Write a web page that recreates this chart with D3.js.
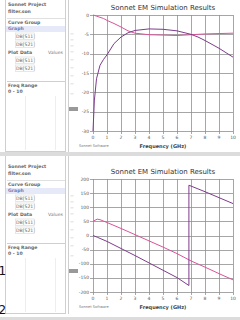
<!DOCTYPE html>
<html>

<head>
    <script src="https://d3js.org/d3.v7.min.js"></script>
    <style>
        body {
            margin: 0;
            background-color: #ffffff;
        }
        text {
            font-family: "DejaVu Sans", sans-serif;
        }
    </style>
</head>

<body>
    <svg id="canvas" width="240" height="320"></svg>
    <script>
        const svg = d3.select('#canvas');
        const PINK = '#d9549a';
        const PURPLE = '#7e3c8c';
        const GRID = '#8f8f8f';

        //tick labels
        const freqTicks = [0, 1, 2, 3, 4, 5, 6, 7, 8, 9, 10];
        const magTicks = [0, -5, -10, -15, -20, -25, -30];
        const phaseTicks = [200, 150, 100, 50, 0, -50, -100, -150, -200];

        //magnitude curves (dB)
        const magFreq = [0, 0.1, 0.25, 0.5, 0.75, 1, 1.5, 2, 2.5, 3, 4, 5, 6, 7, 7.5, 8, 9, 10];
        const s11Mag = [0, -0.1, -0.3, -0.6, -0.9, -1.4, -2.2, -3.1, -4.1, -4.7, -5.1, -5.2, -5.3, -5.1, -5.0, -4.9, -4.8, -4.7];
        const s21Mag = [-30, -22, -16.5, -13, -11.5, -10.3, -7.4, -5.7, -4.6, -4.0, -3.6, -3.7, -4.1, -5.0, -5.7, -6.6, -8.6, -10.9];

        //phase curves (deg)
        const s11PhaseFreq = [0, 0.3, 0.5, 1, 2, 3, 4, 5, 6, 7, 8, 9, 10];
        const s11Phase = [50, 58, 56, 46, 25, 3, -19, -41, -64, -90, -112, -135, -157];
        const s21PhaseFreq = [0, 0.3, 1, 2, 3, 4, 5, 6, 6.85, 6.85, 7, 8, 9, 10];
        const s21Phase = [0, -6, -21, -46, -71, -97, -123, -149, -177, 178, 175, 155, 134, 113];

        //sidebar rows: [label, indent, right label]
        const sideRows = [
            ['Sonnet Project', 0, ''],
            ['filter.son', 0, ''],
            ['Curve Group', 0, ''],
            ['Graph', 0, ''],
            ['DB[S11]', 1, ''],
            ['DB[S21]', 1, ''],
            ['Plot Data', 0, 'Values'],
            ['DB[S11]', 1, ''],
            ['DB[S21]', 1, '']
        ];
        const panelNumbers = ['1', '2'];
        const panels = [
            { oy: 0, top: 15, bottom: 131, ticks: magTicks,
              series: [[magFreq, s11Mag, PINK], [magFreq, s21Mag, PURPLE]] },
            { oy: 162, top: 179, bottom: 292, ticks: phaseTicks,
              series: [[s11PhaseFreq, s11Phase, PINK], [s21PhaseFreq, s21Phase, PURPLE]] }
        ];

        const x = d3.scaleLinear().domain([0, 10]).range([93, 233]);

        panels.forEach(p => {
            const g = svg.append('g');
            const oy = p.oy;

            //sidebar box
            g.append('rect').attr('x', 5.5).attr('y', oy - 6.5).attr('width', 60).attr('height', 158)
                .attr('fill', '#fff').attr('stroke', '#cfcfcf');
            g.append('line').attr('x1', 68.5).attr('x2', 68.5).attr('y1', oy - 6).attr('y2', oy + 152)
                .attr('stroke', '#cfcfcf');
            g.append('rect').attr('x', 6).attr('y', oy + 26).attr('width', 59).attr('height', 6)
                .attr('fill', '#e6e9f8');
            const rowY = [6, 13, 24, 30, 38, 46, 54, 62, 70];
            sideRows.forEach((r, i) => {
                g.append('text').attr('x', 8 + r[1] * 8).attr('y', oy + rowY[i])
                    .attr('font-size', 4.6).attr('fill', i === 3 ? '#7078b0' : '#666')
                    .attr('font-weight', r[1] ? 'normal' : 'bold')
                    .text(r[0]);
                if (r[1]) {
                    g.append('rect').attr('x', 15.5).attr('y', oy + rowY[i] - 5).attr('width', 19).attr('height', 6.5)
                        .attr('fill', 'none').attr('stroke', '#d8d8d8').attr('stroke-width', 0.6);
                }
                if (r[2]) {
                    g.append('text').attr('x', 63).attr('y', oy + rowY[i]).attr('text-anchor', 'end')
                        .attr('font-size', 4.6).attr('fill', '#777').text(r[2]);
                }
            });
            g.append('line').attr('x1', 7).attr('x2', 65).attr('y1', oy + 18.5).attr('y2', oy + 18.5)
                .attr('stroke', '#e0e0e0');
            g.append('line').attr('x1', 7).attr('x2', 65).attr('y1', oy + 81.5).attr('y2', oy + 81.5)
                .attr('stroke', '#cfcfcf');
            g.append('text').attr('x', 8).attr('y', oy + 87).attr('font-size', 4.6).attr('fill', '#666')
                .attr('font-weight', 'bold').text('Freq Range');
            g.append('text').attr('x', 8).attr('y', oy + 93).attr('font-size', 4.6).attr('fill', '#666')
                .attr('font-weight', 'bold').text('0 - 10');
            [25.5, 55.5].forEach(lx => g.append('line').attr('x1', lx).attr('x2', lx)
                .attr('y1', oy + 96).attr('y2', oy + 150).attr('stroke', '#eeeeee'));

            //narrow clipped column next to sidebar
            [35, 41, 47, 53, 61, 69, 77, 85, 95].forEach(cy => g.append('text')
                .attr('x', 70).attr('y', oy + cy).attr('font-size', 3.8).attr('fill', '#888').text('—'));
            g.append('rect').attr('x', 69).attr('y', oy + 107).attr('width', 9).attr('height', 4).attr('fill', '#999');

            //chart
            const y = d3.scaleLinear().domain([p.ticks[p.ticks.length - 1], p.ticks[0]]).range([p.bottom, p.top]);
            g.append('text').attr('x', 163).attr('y', p.top - 5).attr('text-anchor', 'middle')
                .attr('font-size', 7).attr('fill', '#333').text('Sonnet EM Simulation Results');

            g.append('g').selectAll('line').data(freqTicks).join('line')
                .attr('x1', d => Math.round(x(d)) + 0.5).attr('x2', d => Math.round(x(d)) + 0.5)
                .attr('y1', p.top).attr('y2', p.bottom + 3).attr('stroke', GRID).attr('stroke-width', 0.8);
            g.append('g').selectAll('line').data(p.ticks).join('line')
                .attr('x1', 90).attr('x2', 233)
                .attr('y1', d => Math.round(y(d)) + 0.5).attr('y2', d => Math.round(y(d)) + 0.5)
                .attr('stroke', GRID).attr('stroke-width', 0.8);

            g.append('g').selectAll('text').data(freqTicks).join('text')
                .attr('x', d => x(d)).attr('y', p.bottom + 8).attr('text-anchor', 'middle')
                .attr('font-size', 4.5).attr('fill', '#555').text(d => d);
            g.append('g').selectAll('text').data(p.ticks).join('text')
                .attr('x', 89).attr('y', d => y(d) + 1.5).attr('text-anchor', 'end')
                .attr('font-size', 4.5).attr('fill', '#555').text(d => d);

            g.append('text').attr('x', 163).attr('y', p.bottom + 17).attr('text-anchor', 'middle')
                .attr('font-size', 5).attr('font-weight', 'bold').attr('fill', '#444').text('Frequency (GHz)');
            g.append('text').attr('x', 79).attr('y', p.bottom + 16).attr('font-size', 3.6)
                .attr('fill', '#777').text('Sonnet Software');

            const line = d3.line().x(d => x(d[0])).y(d => y(d[1]));
            p.series.forEach(s => {
                g.append('path').attr('d', line(s[0].map((f, i) => [f, s[1][i]])))
                    .attr('fill', 'none').attr('stroke', s[2]).attr('stroke-width', 1);
            });
        });

        //panel numbers at the left edge
        svg.selectAll('.num').data(panelNumbers).join('text')
            .attr('class', 'num')
            .attr('x', -1.5).attr('y', (d, i) => 275 + i * 39)
            .attr('font-size', 12).attr('fill', '#111').text(d => d);

        //bands between and below panels
        svg.append('rect').attr('x', 0).attr('y', 152).attr('width', 240).attr('height', 4).attr('fill', '#dcdcdc');
        svg.append('rect').attr('x', 0).attr('y', 317).attr('width', 240).attr('height', 3).attr('fill', '#dcdcdc');
    </script>
</body>

</html>
